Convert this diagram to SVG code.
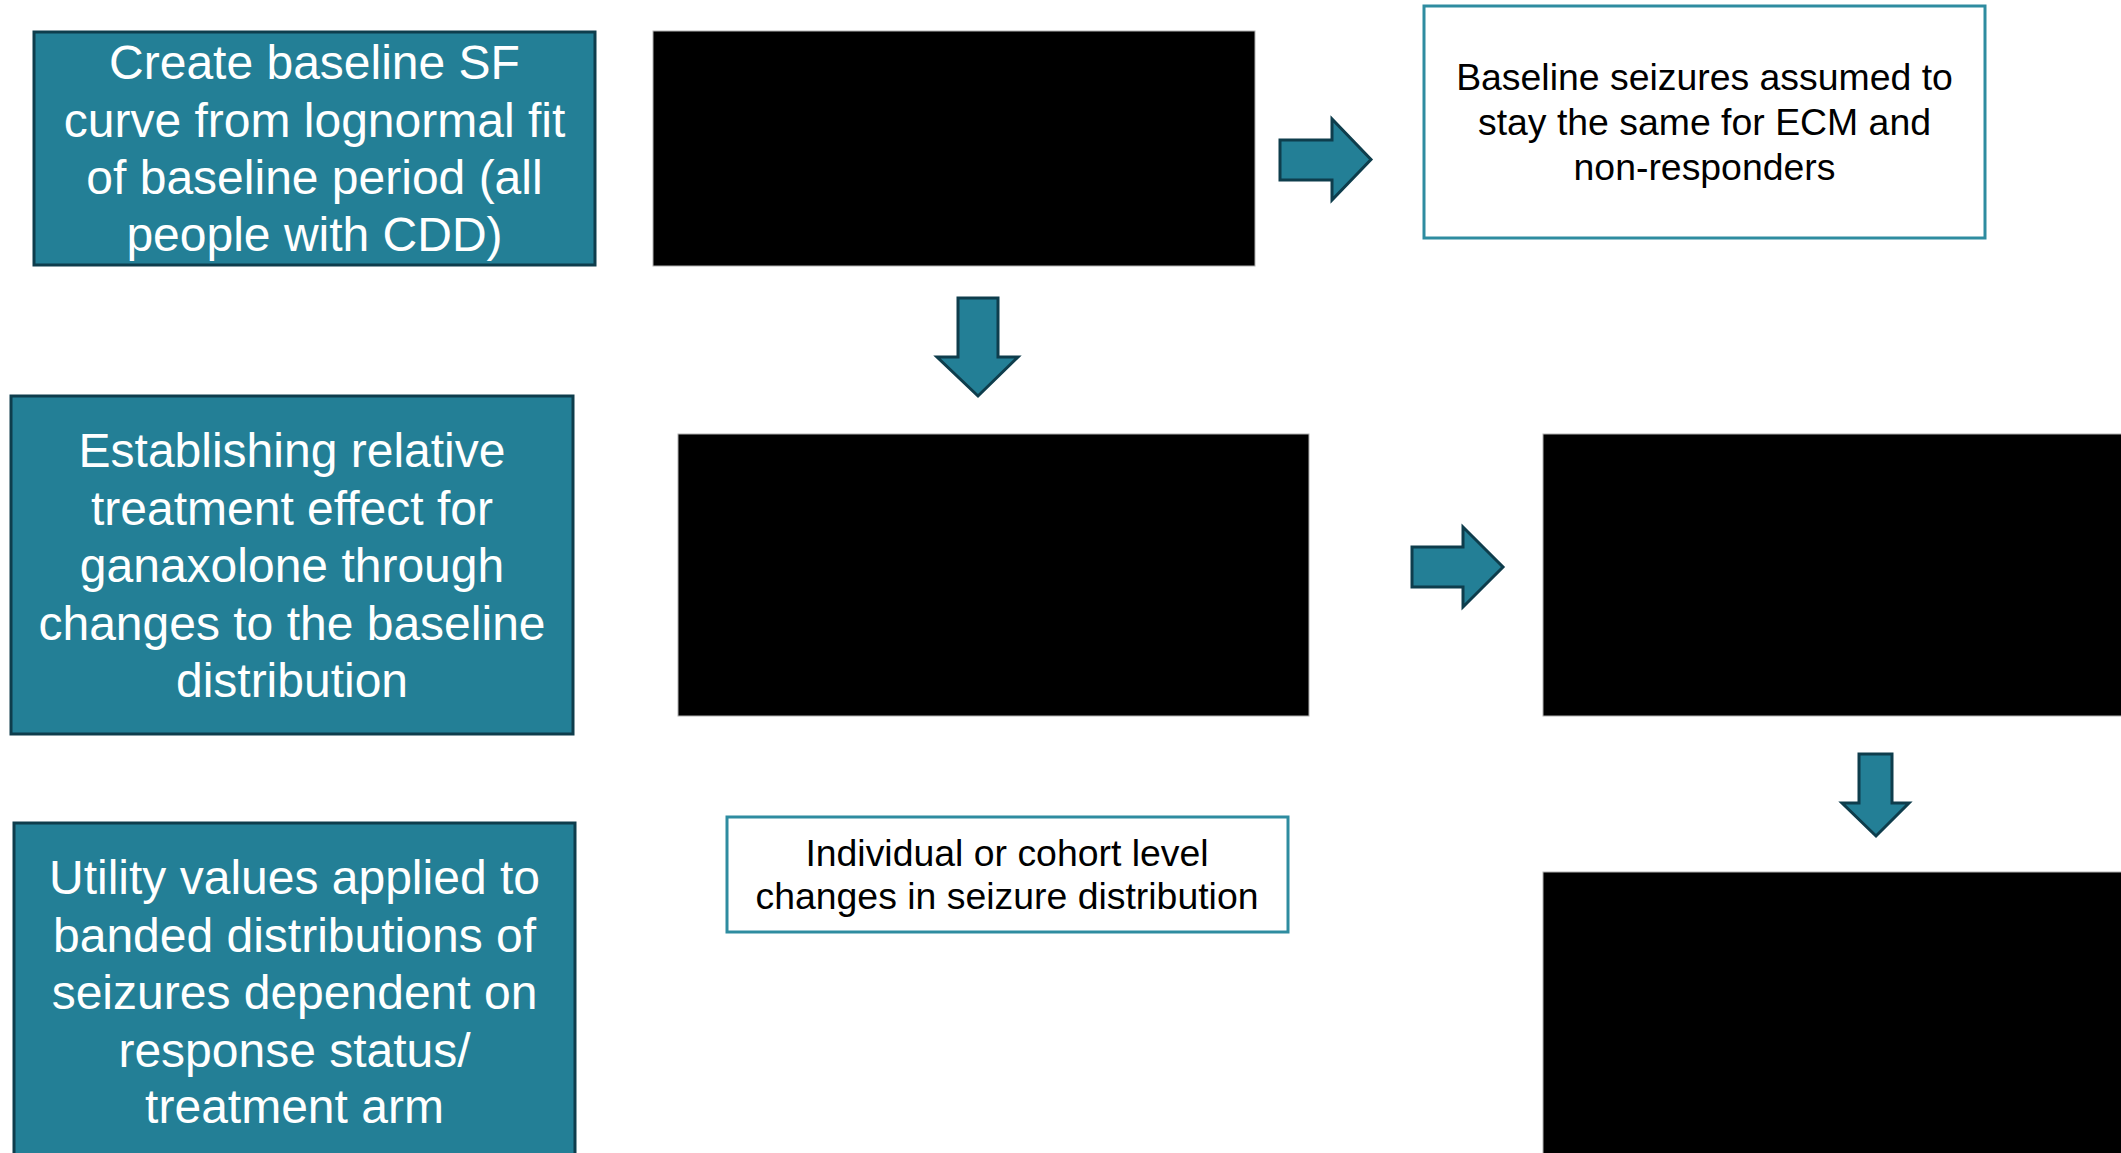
<svg xmlns="http://www.w3.org/2000/svg" width="2121" height="1153" viewBox="0 0 2121 1153">
<style>
.teal{fill:#237f96;stroke:#0e3d4c;stroke-width:3}
.outline{fill:#ffffff;stroke:#2e8ca0;stroke-width:3}
.blk{fill:#000000;stroke:#b0b0b0;stroke-width:1}
.arrow{fill:#237f96;stroke:#0e3d4c;stroke-width:3;stroke-linejoin:miter}
.wt{font-family:"Liberation Sans",Arial,sans-serif;font-size:48px;fill:#ffffff;text-anchor:middle}
.bt{font-family:"Liberation Sans",Arial,sans-serif;font-size:37.4px;fill:#000000;text-anchor:middle}
</style>
<rect width="2121" height="1153" fill="#ffffff"/>
<g id="node-baseline-sf">
<rect class="teal" x="34" y="32" width="561" height="233"/>
<text class="wt"><tspan x="314.5" y="79">Create baseline SF</tspan><tspan x="314.5" y="137">curve from lognormal fit</tspan><tspan x="314.5" y="194">of baseline period (all</tspan><tspan x="314.5" y="251">people with CDD)</tspan></text>
</g>
<g id="node-black-1"><rect class="blk" x="653" y="31" width="602" height="235"/></g>
<g id="node-baseline-seizures">
<rect class="outline" x="1424" y="6" width="561" height="232"/>
<text class="bt"><tspan x="1704.5" y="90">Baseline seizures assumed to</tspan><tspan x="1704.5" y="135">stay the same for ECM and</tspan><tspan x="1704.5" y="180">non-responders</tspan></text>
</g>
<g id="node-treatment-effect">
<rect class="teal" x="11" y="396" width="562" height="338"/>
<text class="wt"><tspan x="292" y="467">Establishing relative</tspan><tspan x="292" y="524.5">treatment effect for</tspan><tspan x="292" y="582">ganaxolone through</tspan><tspan x="292" y="639.5">changes to the baseline</tspan><tspan x="292" y="697">distribution</tspan></text>
</g>
<g id="node-black-2"><rect class="blk" x="678" y="434" width="631" height="282"/></g>
<g id="node-black-3"><rect class="blk" x="1543" y="434" width="590" height="282"/></g>
<g id="node-individual-cohort">
<rect class="outline" x="727" y="817" width="561" height="115"/>
<text class="bt"><tspan x="1007" y="866">Individual or cohort level</tspan><tspan x="1007" y="909">changes in seizure distribution</tspan></text>
</g>
<g id="node-utility">
<rect class="teal" x="14" y="823" width="561" height="340"/>
<text class="wt"><tspan x="294.5" y="894">Utility values applied to</tspan><tspan x="294.5" y="952">banded distributions of</tspan><tspan x="294.5" y="1009">seizures dependent on</tspan><tspan x="294.5" y="1067">response status/</tspan><tspan x="294.5" y="1123">treatment arm</tspan></text>
</g>
<g id="node-black-4"><rect class="blk" x="1543" y="872" width="590" height="290"/></g>
<g id="connectors">
<polygon class="arrow" points="1280,140 1332,140 1332,119 1371,159.5 1332,200 1332,180 1280,180"/>
<polygon class="arrow" points="958,298 998,298 998,357 1018,357 978,396 937,357 958,357"/>
<polygon class="arrow" points="1412,547 1463,547 1463,527 1503,567 1463,607 1463,587 1412,587"/>
<polygon class="arrow" points="1859,754 1892,754 1892,803 1909,803 1876,836 1842,803 1859,803"/>
</g>
</svg>
